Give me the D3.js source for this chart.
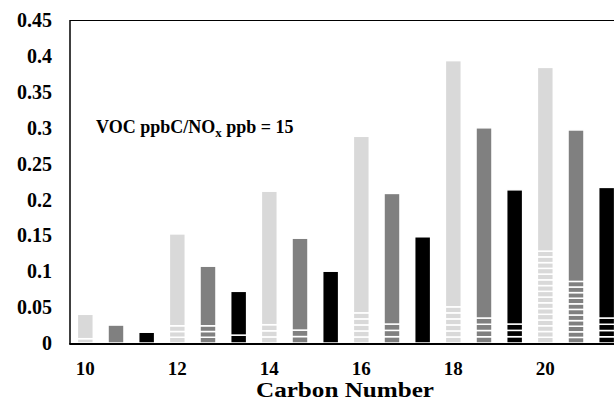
<!DOCTYPE html>
<html>
<head>
<meta charset="utf-8">
<script src="https://cdn.jsdelivr.net/npm/d3@7"></script>
<style>
  body{margin:0;background:#fff;}
  svg{display:block;}
</style>
</head>
<body>
<svg id="chart" width="614" height="401"></svg>
<script>
// carbon numbers that get a label, each one has three bars (light, mid, dark)
var carbonNumbers=["10","12","14","16","18","20"];
var seriesColors=["#d9d9d9","#808080","#000000"];

// small stacked pieces at the bottom of each bar (they show as stripes)
var lightStripes=[
	[0.006],
	[0.008,0.008,0.008],
	[0.0085,0.0085,0.0085],
	[0.0084,0.0084,0.0084,0.0084,0.0084],
	[0.0084,0.0084,0.0084,0.0084,0.0084,0.0084],
	[0.008,0.008,0.008,0.008,0.008,0.008,0.008,0.008,0.008,0.008,0.008,0.008,0.008,0.008,0.008,0.008]
];
var midStripes=[
	[],
	[0.008,0.008,0.008],
	[0.009,0.009],
	[0.0088,0.0088,0.0088],
	[0.0087,0.0087,0.0087,0.0087],
	[0.0078,0.0078,0.0078,0.0078,0.0078,0.0078,0.0078,0.0078,0.0078,0.0078,0.0078]
];
var darkStripes=[
	[],
	[0.011],
	[],
	[],
	[0.0088,0.0088,0.0088],
	[0.0087,0.0087,0.0087,0.0087]
];
// solid piece on top of the stripes
var lightTop=[0.034,0.128,0.186,0.246,0.343,0.256];
var midTop=[0.025,0.083,0.128,0.182,0.265,0.211];
var darkTop=[0.015,0.061,0.100,0.148,0.187,0.182];

var yTicks=[0,0.05,0.1,0.15,0.2,0.25,0.3,0.35,0.4,0.45];

var W=614,H=401;
var plot={left:70,top:20,right:622,bottom:343};
var FONT="'Liberation Serif','Times New Roman',Times,serif";

var svg=d3.select("#chart");

//build the bar list, 3 per carbon number
var bars=[];
var stripeSets=[lightStripes,midStripes,darkStripes];
var tops=[lightTop,midTop,darkTop];
carbonNumbers.forEach(function(c,i){
	for(var s=0;s<3;s++){
		var segs=stripeSets[s][i].concat([tops[s][i]]);
		var y0=0;
		var pieces=segs.map(function(v){var p={y0:y0,y1:y0+v};y0+=v;return p;});
		bars.push({id:c+"_"+s,label:s===0?c:"",color:seriesColors[s],pieces:pieces});
	}
});

var x=d3.scaleBand()
	.domain(bars.map(function(d){return d.id;}))
	.range([plot.left,plot.right])
	.paddingInner(0.48)
	.paddingOuter(0.24);

var y=d3.scaleLinear()
	.domain([0,0.45])
	.range([plot.bottom,plot.top]);

var barG=svg.append("g")
	.selectAll("g.bar")
	.data(bars)
	.enter()
	.append("g")
	.attr("class","bar");

barG.selectAll("rect")
	.data(function(d){return d.pieces.map(function(p){return {p:p,bar:d};});})
	.enter()
	.append("rect")
	.attr("x",function(d){return x(d.bar.id);})
	.attr("width",x.bandwidth())
	.attr("y",function(d){return y(d.p.y1);})
	.attr("height",function(d){return y(d.p.y0)-y(d.p.y1);})
	.attr("fill",function(d){return d.bar.color;})
	.attr("stroke","#fff")
	.attr("stroke-width",1.5);

//frame
svg.append("line").attr("x1",plot.left).attr("x2",W).attr("y1",plot.top+0.5).attr("y2",plot.top+0.5)
	.attr("stroke","#000").attr("stroke-width",1);
svg.append("line").attr("x1",plot.left).attr("x2",plot.left).attr("y1",plot.top).attr("y2",plot.bottom+1)
	.attr("stroke","#000").attr("stroke-width",1.5);
svg.append("line").attr("x1",plot.left-0.75).attr("x2",W).attr("y1",plot.bottom+1).attr("y2",plot.bottom+1)
	.attr("stroke","#000").attr("stroke-width",2);

//y axis labels
var yAxis=d3.axisLeft(y)
	.tickValues(yTicks)
	.tickSize(0)
	.tickPadding(0)
	.tickFormat(function(d){return d===0?"0":String(+d.toFixed(2));});
var yg=svg.append("g").attr("transform","translate(52,0)").call(yAxis);
yg.select(".domain").remove();
yg.attr("font-family",FONT).attr("font-size",20).attr("font-weight","bold");
yg.selectAll("text").attr("dy","0.33em").attr("fill","#000");

//x axis labels
var xAxis=d3.axisBottom(x)
	.tickSize(0)
	.tickPadding(0)
	.tickFormat(function(id){return bars.find(function(b){return b.id===id;}).label;});
var xg=svg.append("g").attr("transform","translate(0,374.5)").call(xAxis);
xg.select(".domain").remove();
xg.attr("font-family",FONT).attr("font-size",19).attr("font-weight","bold");
xg.selectAll("text").attr("dy",0).attr("y",0).attr("fill","#000");

//axis title
svg.append("text")
	.attr("x",345).attr("y",396.5)
	.attr("text-anchor","middle")
	.attr("font-family",FONT).attr("font-size",20).attr("font-weight","bold")
	.attr("textLength",178).attr("lengthAdjust","spacingAndGlyphs")
	.text("Carbon Number");

//annotation
var note=svg.append("text")
	.attr("x",96).attr("y",133)
	.attr("font-family",FONT).attr("font-size",18).attr("font-weight","bold");
note.append("tspan").text("VOC ppbC/NO");
note.append("tspan").attr("dy",4).attr("font-size",13).text("x");
note.append("tspan").attr("dy",-4).text(" ppb = 15");
</script>
</body>
</html>
